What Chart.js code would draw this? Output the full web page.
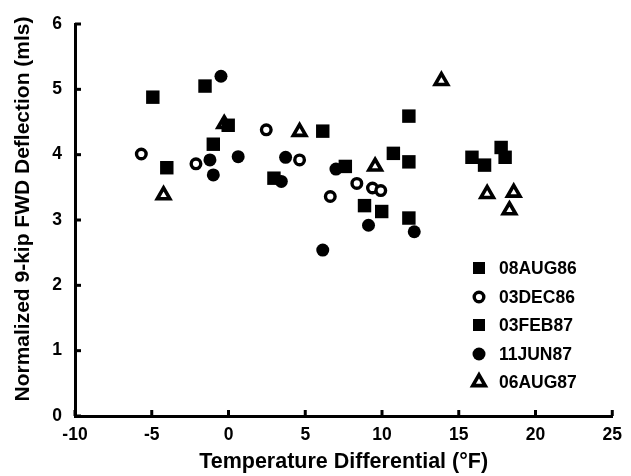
<!DOCTYPE html>
<html>
<head>
<meta charset="utf-8">
<script src="https://cdn.jsdelivr.net/npm/chart.js@4.4.0/dist/chart.umd.min.js"></script>
<style>
  html, body { margin: 0; padding: 0; background: #fff; }
  #wrap { width: 631px; height: 476px; }
</style>
</head>
<body>
<div id="wrap"><canvas id="c" width="631" height="476"></canvas></div>
<script>
// FWD deflection survey: normalized deflection vs. slab temperature differential
const seriesNames = ['08AUG86', '03DEC86', '03FEB87', '11JUN87', '06AUG87'];

const aug86X = [8.86, 9.98, 10.74, 11.75, 11.75, 11.75, 15.86, 16.68, 17.76, 18.02];
const aug86Y = [3.22, 3.13, 4.02, 4.59, 3.89, 3.03, 3.96, 3.84, 4.11, 3.96];

const dec86X = [-5.68, -2.12, 2.46, 4.63, 8.36, 9.38, 9.92, 6.63];
const dec86Y = [4.01, 3.86, 4.38, 3.92, 3.56, 3.49, 3.45, 3.36];

const feb87X = [-4.93, -1.53, -0.02, -0.99, -4.02, 6.14, 7.61, 2.96];
const feb87Y = [4.88, 5.05, 4.45, 4.16, 3.80, 4.36, 3.82, 3.64];

const jun87X = [-0.49, 0.63, -1.21, -0.99, 3.72, 7.00, 3.44, 9.12, 6.14, 12.10];
const jun87Y = [5.20, 3.97, 3.92, 3.69, 3.96, 3.78, 3.59, 2.92, 2.54, 2.82];

const aug87X = [-0.28, -4.23, 4.63, 9.55, 13.87, 16.85, 18.58, 18.30];
const aug87Y = [4.47, 3.38, 4.35, 3.82, 5.13, 3.40, 3.42, 3.15];

const xTicks = [-10, -5, 0, 5, 10, 15, 20, 25];
const yTicks = [0, 1, 2, 3, 4, 5, 6];

const xTitle = 'Temperature Differential (°F)';
const yTitle = 'Normalized 9-kip FWD Deflection (mls)';

const FONT = "'Liberation Sans', Arial, Helvetica, sans-serif";

const pts = (xs, ys) => xs.map((x, i) => ({ x, y: ys[i] }));

// marker styles per series
const markerStyles = [
  { pointStyle: 'rect',     radius: 9.5, bg: '#000', border: '#000', bw: 0 },
  { pointStyle: 'circle',   radius: 4.8, bg: '#fff', border: '#000', bw: 3.4 },
  { pointStyle: 'rect',     radius: 9.5, bg: '#000', border: '#000', bw: 0 },
  { pointStyle: 'circle',   radius: 6.5, bg: '#000', border: '#000', bw: 0 },
  { pointStyle: 'triangle', radius: 7.2, bg: '#fff', border: '#000', bw: 3.6 }
];

const seriesData = [
  pts(aug86X, aug86Y),
  pts(dec86X, dec86Y),
  pts(feb87X, feb87Y),
  pts(jun87X, jun87Y),
  pts(aug87X, aug87Y)
];

const datasets = seriesNames.map((name, i) => ({
  label: name,
  data: seriesData[i],
  pointStyle: markerStyles[i].pointStyle,
  pointRadius: markerStyles[i].radius,
  pointHoverRadius: markerStyles[i].radius,
  pointBackgroundColor: markerStyles[i].bg,
  pointBorderColor: markerStyles[i].border,
  pointBorderWidth: markerStyles[i].bw,
  showLine: false,
  clip: false
}));

// inward tick marks, rotated y-axis title and the frameless legend
const decorations = {
  id: 'decorations',
  afterDraw(chart) {
    const { ctx, scales: { x, y } } = chart;
    ctx.save();
    ctx.strokeStyle = '#000';
    ctx.lineWidth = 3;
    ctx.lineCap = 'butt';
    xTicks.forEach(v => {
      const px = x.getPixelForValue(v);
      ctx.beginPath();
      ctx.moveTo(px, y.bottom);
      ctx.lineTo(px, y.bottom - 6);
      ctx.stroke();
    });
    yTicks.forEach(v => {
      const py = y.getPixelForValue(v);
      ctx.beginPath();
      ctx.moveTo(x.left, py);
      ctx.lineTo(x.left + 6, py);
      ctx.stroke();
    });

    // y-axis title
    ctx.fillStyle = '#000';
    ctx.font = 'bold 21px ' + FONT;
    ctx.textAlign = 'center';
    ctx.textBaseline = 'middle';
    ctx.translate(23, 209);
    ctx.rotate(-Math.PI / 2);
    ctx.fillText(yTitle, 0, 0);
    ctx.restore();

    // legend
    ctx.save();
    const rowY = [268, 297, 325, 354, 382];
    seriesNames.forEach((name, i) => {
      const m = markerStyles[i];
      ctx.fillStyle = m.bg;
      ctx.strokeStyle = m.border;
      ctx.lineWidth = m.bw;
      Chart.helpers.drawPoint(ctx, {
        pointStyle: m.pointStyle,
        radius: m.pointStyle === 'rect' ? 8.5 : m.radius,
        rotation: 0,
        borderWidth: m.bw
      }, 479, rowY[i]);
      ctx.fillStyle = '#000';
      ctx.font = 'bold 17.5px ' + FONT;
      ctx.textAlign = 'left';
      ctx.textBaseline = 'middle';
      ctx.fillText(name, 499, rowY[i] + 1);
    });
    ctx.restore();
  }
};

new Chart(document.getElementById('c'), {
  type: 'scatter',
  data: { datasets },
  options: {
    responsive: false,
    animation: false,
    events: [],
    layout: { padding: { top: 24, right: 16, left: 0, bottom: 0 } },
    plugins: {
      legend: { display: false },
      tooltip: { enabled: false }
    },
    scales: {
      x: {
        type: 'linear',
        min: -10,
        max: 25,
        afterBuildTicks: s => { s.ticks = xTicks.map(v => ({ value: v })); },
        ticks: {
          color: '#000',
          font: { family: FONT, size: 17.5, weight: 'bold' },
          padding: 9,
          maxRotation: 0
        },
        grid: { display: false, drawTicks: false },
        border: { display: true, color: '#000', width: 3 },
        title: {
          display: true,
          text: xTitle,
          color: '#000',
          font: { family: FONT, size: 21.5, weight: 'bold' },
          padding: { top: 0, bottom: 1 }
        },
        afterFit: s => { s.height = 60; }
      },
      y: {
        type: 'linear',
        min: 0,
        max: 6,
        afterBuildTicks: s => { s.ticks = yTicks.map(v => ({ value: v })); },
        ticks: {
          color: '#000',
          font: { family: FONT, size: 17.5, weight: 'bold' },
          padding: 13
        },
        grid: { display: false, drawTicks: false },
        border: { display: true, color: '#000', width: 3 },
        afterFit: s => { s.width = 75; }
      }
    }
  },
  plugins: [decorations]
});
</script>
</body>
</html>
